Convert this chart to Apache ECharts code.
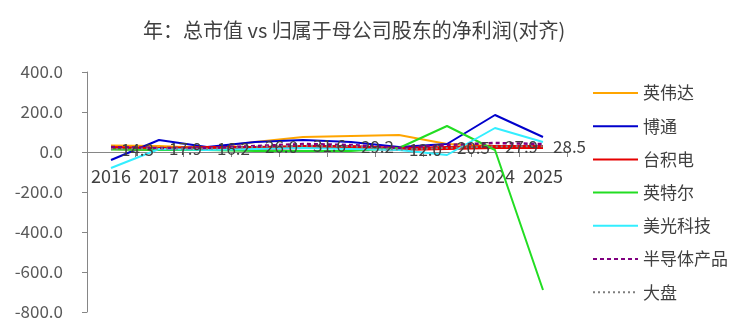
<!DOCTYPE html>
<html>
<head>
<meta charset="utf-8">
<script src="https://cdn.jsdelivr.net/npm/echarts@6/dist/echarts.min.js"></script>
<style>html,body{margin:0;padding:0;background:#fff}#c{width:750px;height:333px}</style>
</head>
<body>
<div id="c"></div>
<script>
var years = ['2016','2017','2018','2019','2020','2021','2022','2023','2024','2025'];
var nvidia = [32, 30, 20, 50, 75, 80, 85, 40, 30, 25];
var broadcom = [-40, 60, 25, 50, 60, 50, 25, 40, 185, 75];
var tsmc = [20, 15, 20, 20, 25, 25, 15, 20, 25, 25];
var intel = [12, 10, 10, 5, 5, 5, 20, 130, 10, -690];
var micron = [-80, 15, 10, 15, 20, 15, 10, -15, 120, 50];
var semis = [25, 20, 20, 30, 40, 35, 20, 35, 45, 40];
var market = [14.3, 17.9, 16.2, 26.0, 31.6, 29.2, 12.0, 20.5, 27.9, 28.5];
var yTicks = {min: -800, max: 400, interval: 200};

var font = '"Noto Sans CJK SC", "Noto Sans", sans-serif';
function line(name, data, color, width, type, z) {
  return {
    name: name, type: 'line', data: data, symbol: 'none', z: z,
    lineStyle: {color: color, width: width, type: type || 'solid'},
    itemStyle: {color: color}
  };
}
var mk = line('大盘', market, '#7F7F7F', 2, [2, 3], 9);
mk.symbol = 'circle';
mk.symbolSize = 0.01;
mk.showSymbol = true;
mk.label = {show: true, position: 'right', distance: 10, fontSize: 17, color: '#404040', fontFamily: font,
  formatter: function (p) { return p.value.toFixed(1); }};

var gridTop = 72, gridBottom = 21, H = 333;
// pixel offset that puts the category axis on the value-axis zero line
var zeroOffset = -((H - gridBottom) - gridTop) * (0 - yTicks.min) / (yTicks.max - yTicks.min);

var chart = echarts.init(document.getElementById('c'));
chart.setOption({
  animation: false,
  title: {text: '年：总市值 vs 归属于母公司股东的净利润(对齐)', left: 138, top: 15,
    textStyle: {fontSize: 20, fontWeight: 'normal', color: '#404040', fontFamily: font}},
  grid: {left: 87, right: 183, top: gridTop, bottom: gridBottom, containLabel: false, outerBoundsMode: 'none'},
  legend: {orient: 'vertical', left: 592, top: 84, padding: 0, itemWidth: 45, itemHeight: 18, itemGap: 15.2,
    itemStyle: {opacity: 0},
    textStyle: {fontSize: 17, color: '#404040', fontFamily: font, lineHeight: 18},
    data: ['英伟达','博通','台积电','英特尔','美光科技','半导体产品','大盘']},
  xAxis: {type: 'category', data: years, boundaryGap: true, position: 'bottom', offset: zeroOffset,
    axisLine: {onZero: false, lineStyle: {color: '#868686'}},
    axisTick: {show: true, length: 5, lineStyle: {color: '#868686'}},
    axisLabel: {fontSize: 18, color: '#404040', margin: 15, interval: 0, fontFamily: font}},
  yAxis: {type: 'value', min: yTicks.min, max: yTicks.max, interval: yTicks.interval,
    axisLine: {show: true, lineStyle: {color: '#868686'}},
    axisTick: {show: true, length: 5, lineStyle: {color: '#868686'}},
    splitLine: {show: false},
    axisLabel: {fontSize: 17, color: '#595959', margin: 24, fontFamily: font,
      formatter: function (v) { return v.toFixed(1); }}},
  series: [
    line('英伟达', nvidia, '#FFA500', 2, 'solid', 2),
    line('博通', broadcom, '#0000CC', 2, 'solid', 3),
    line('台积电', tsmc, '#E60000', 4, 'solid', 4),
    line('英特尔', intel, '#22DD22', 2, 'solid', 5),
    line('美光科技', micron, '#33EEFF', 2, 'solid', 6),
    line('半导体产品', semis, '#800080', 2.5, [4, 3], 8),
    mk
  ]
});
</script>
</body>
</html>
